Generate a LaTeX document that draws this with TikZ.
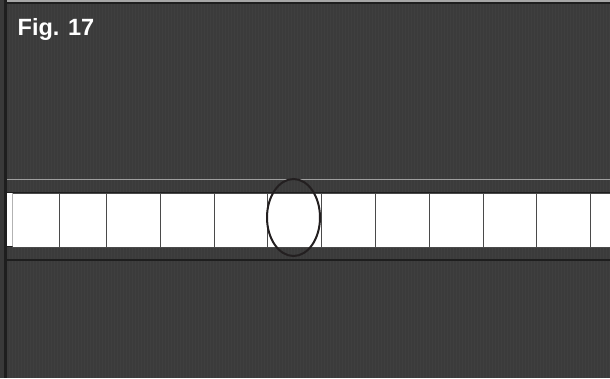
\documentclass[tikz,border=0pt]{standalone}
\usepackage{fontspec}
\setmainfont{Liberation Sans}
\usetikzlibrary{shapes.geometric}
\definecolor{bg}{HTML}{3B3B3B}
\definecolor{edge}{HTML}{1E1E1E}
\definecolor{cellline}{HTML}{4A4A4A}
\definecolor{ring}{HTML}{231F20}
\begin{document}
\begin{tikzpicture}[x=1pt,y=-1pt,
  cellbox/.style={draw=cellline,line width=1pt,fill=white},
  ringstyle/.style={draw=ring,line width=2pt},
  title/.style={text=white,font=\bfseries\fontsize{23.5}{25}\selectfont,anchor=base west,inner sep=0pt}]
\useasboundingbox (0,0) rectangle (610,378);
\fill[bg] (0,0) rectangle (610,378);
% subtle texture
\foreach \i in {0,3,...,609}{
  \draw[white,opacity=0.025,line width=1pt] (\i,0) -- (\i,378);
}
% frame edges
\fill[gray!70] (0,0) rectangle (610,2);
\fill[edge] (0,2) rectangle (610,3.5);
\fill[gray!45!black] (0,0) rectangle (4,378);
\fill[edge] (4,0) rectangle (6.5,378);
% horizontal rails
\draw[gray!75,line width=1pt] (7,179.5) -- (610,179.5);
\draw[edge,line width=1.5pt] (7,260) -- (610,260);
% strip of cells
\fill[white] (7,193) rectangle (610,246);
\draw[edge,line width=1pt] (7,192.5) -- (610,192.5);
\draw[edge,line width=1pt] (7,246.5) -- (610,246.5);
\foreach \a/\b [count=\k] in {12/59,59/106,106/160,160/214,214/267,267/321,321/375,375/429,429/483,483/536,536/590,590/612}{
  \node[cellbox,minimum width=\b-\a,minimum height=54,inner sep=0pt,anchor=north west] (c\k) at (\a,192.5) {};
}
\draw[gray!60,line width=1pt] (12,193) -- (12,246);
% ring
\node[ringstyle,ellipse,minimum width=53,minimum height=77,inner sep=0pt] (ring) at (293.5,217.5) {};
% title
\node[title] (fig) at (17.5,35) {Fig. 17};
\end{tikzpicture}
\end{document}
